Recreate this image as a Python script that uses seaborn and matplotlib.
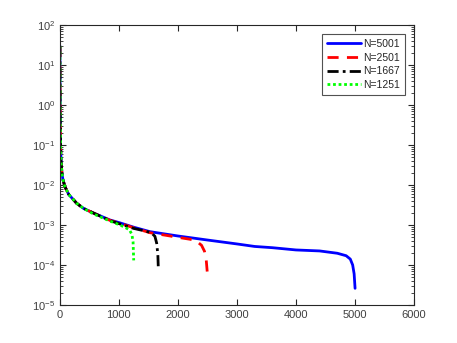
import matplotlib
matplotlib.use("Agg")
import matplotlib.pyplot as plt
import seaborn as sns
import pandas as pd
import numpy as np
from matplotlib.ticker import LogLocator, NullFormatter, FixedLocator

sns.set_style("ticks")
plt.rcParams['font.family'] = ['Liberation Sans', 'DejaVu Sans']

# head shared by all curves
head_x = [1, 2, 3, 5, 8, 12, 20, 35, 50, 85, 150, 283, 400, 565]
head_y = [30, 8, 3, 1, 0.3, 0.1, 0.04, 0.02, 0.014, 0.0091, 0.0058, 0.0035, 0.0026, 0.002]

x_5001 = head_x + [850, 1000, 1250, 1525, 2000, 2500, 3000, 3300, 3600, 4000, 4400, 4700, 4850, 4920, 4960, 4985, 5001]
y_5001 = head_y + [0.00133, 0.00115, 0.00088, 0.00068, 0.00053, 0.00042, 0.000335, 0.00029, 0.00027,
                   0.000237, 0.000224, 0.000196, 0.00017, 0.00014, 0.0001, 0.00006, 0.000026]

x_2501 = head_x + [850, 1000, 1250, 1525, 1800, 2000, 2200, 2300, 2400, 2450, 2480, 2501]
y_2501 = head_y + [0.0013, 0.00112, 0.00085, 0.00064, 0.00055, 0.00049, 0.00044, 0.00041, 0.00031,
                   0.00022, 0.00013, 0.000056]

x_1667 = head_x + [850, 1000, 1250, 1400, 1550, 1610, 1640, 1660, 1667]
y_1667 = head_y + [0.00128, 0.00108, 0.00082, 0.00073, 0.00064, 0.00052, 0.00035, 0.00018, 0.00009]

x_1251 = head_x[:-1] + [565, 850, 1000, 1100, 1180, 1220, 1240, 1251]
y_1251 = head_y[:-1] + [0.0019, 0.00125, 0.00102, 0.00088, 0.00075, 0.00058, 0.00038, 0.00013]

labels = ["N=5001", "N=2501", "N=1667", "N=1251"]
colors = ["#0000ff", "#ff0000", "#000000", "#00ff00"]
styles = ["-", (0, (4, 3)), (0, (4, 1.5, 1, 1.5)), (0, (1, 1))]
series = [(x_5001, y_5001), (x_2501, y_2501), (x_1667, y_1667), (x_1251, y_1251)]

fig = plt.figure(figsize=(4.57, 3.43), dpi=100)
ax = fig.add_axes([0.131, 0.111, 0.775, 0.816])

for (xs, ys), lab, col, ls in zip(series, labels, colors, styles):
    df = pd.DataFrame({"x": xs, "y": ys})
    sns.lineplot(data=df, x="x", y="y", ax=ax, color=col, linestyle=ls,
                 linewidth=2.0, label=lab, sort=False, estimator=None)

ax.set_yscale("log")
ax.set_xlim(0, 6000)
ax.set_ylim(1e-5, 1e2)
ax.set_xticks([0, 1000, 2000, 3000, 4000, 5000, 6000])
ax.yaxis.set_major_locator(FixedLocator([10.0**k for k in range(-5, 3)]))
ax.yaxis.set_minor_locator(LogLocator(base=10, subs=np.arange(2, 10), numticks=20))
ax.yaxis.set_minor_formatter(NullFormatter())
ax.set_xlabel("")
ax.set_ylabel("")

for s in ax.spines.values():
    s.set_visible(True)
    s.set_linewidth(0.8)
    s.set_color("#262626")
ax.tick_params(which="both", direction="in", top=True, right=True, labelsize=8,
               labelcolor="#404040", color="#262626")
ax.tick_params(which="major", length=4)
ax.tick_params(which="minor", length=2)

leg = ax.legend(loc="upper right", fontsize=7.5, frameon=True, fancybox=False,
                edgecolor="#262626", handlelength=3.3, handletextpad=0.2,
                borderpad=0.45, labelspacing=0.35, borderaxespad=0.9)
leg.get_frame().set_linewidth(0.8)

fig.savefig("out.png", dpi=100)
